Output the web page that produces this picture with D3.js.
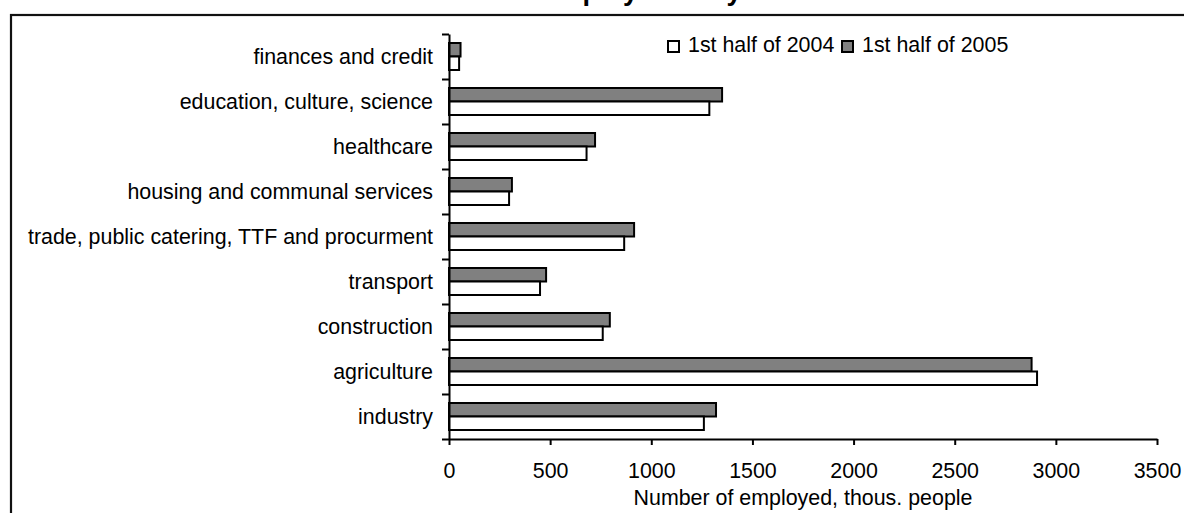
<!DOCTYPE html>
<html>
<head>
<meta charset="utf-8">
<script src="https://cdn.jsdelivr.net/npm/d3@7/dist/d3.min.js"></script>
<style>
  html, body { margin: 0; padding: 0; background: #fff; }
  svg { display: block; }
  text { font-family: "Liberation Sans", Arial, sans-serif; fill: #000; }
</style>
</head>
<body>
<svg id="chart" width="1184" height="513"></svg>
<script>
// Sectors, listed from top to bottom
const categories = [
  "finances and credit",
  "education, culture, science",
  "healthcare",
  "housing and communal services",
  "trade, public catering, TTF and procurment",
  "transport",
  "construction",
  "agriculture",
  "industry"
];
const seriesNames = ["1st half of 2004", "1st half of 2005"];
// thous. people
const values2004 = [50, 1287, 680, 297, 866, 450, 760, 2907, 1260];
const values2005 = [57, 1350, 722, 311, 915, 480, 795, 2880, 1320];
const xTicks = [0, 500, 1000, 1500, 2000, 2500, 3000, 3500];
const xTitle = "Number of employed, thous. people";
const chartTitle = "Structure of employment by sectors";

const svg = d3.select("#chart");
const FONT = 21.4;

// outer chart frame (extends past the right and bottom edges)
svg.append("rect")
  .attr("x", 11).attr("y", 15)
  .attr("width", 1300).attr("height", 600)
  .attr("fill", "none").attr("stroke", "#111").attr("stroke-width", 2.2);

// title, sitting above the frame
svg.append("text")
  .attr("x", 614).attr("y", 0)
  .attr("text-anchor", "middle")
  .attr("font-size", 27).attr("font-weight", "bold")
  .text(chartTitle);

const x = d3.scaleLinear().domain([0, 3500]).range([449, 1157]);
const y = d3.scaleBand().domain(categories).range([34, 439]).padding(0);
const inner = d3.scaleBand().domain(["2005", "2004"]).range([0, y.bandwidth()])
  .paddingInner(0).paddingOuter(0.667);

const rows = categories.map((c, i) => ({ c, v2004: values2004[i], v2005: values2005[i] }));

const g = svg.append("g");
const row = g.selectAll("g.row").data(rows).join("g")
  .attr("class", "row")
  .attr("transform", d => `translate(0,${y(d.c)})`);

row.append("rect")
  .attr("x", x(0)).attr("y", inner("2005"))
  .attr("width", d => x(d.v2005) - x(0)).attr("height", inner.bandwidth())
  .attr("fill", "#808080").attr("stroke", "#000").attr("stroke-width", 2);

row.append("rect")
  .attr("x", x(0)).attr("y", inner("2004"))
  .attr("width", d => x(d.v2004) - x(0)).attr("height", inner.bandwidth())
  .attr("fill", "#fff").attr("stroke", "#000").attr("stroke-width", 2);

// category axis: labels at band centres, ticks at band edges
const yAxis = g.append("g")
  .attr("transform", `translate(${x(0)},0)`)
  .call(d3.axisLeft(y).tickSize(0).tickPadding(16));
yAxis.select(".domain").remove();
yAxis.selectAll("text").attr("font-size", FONT).attr("font-family", null).attr("dy", "0.36em");

const edge = d3.scaleLinear().domain([0, categories.length]).range([34, 439]);
const yEdges = g.append("g")
  .attr("transform", `translate(${x(0)},0)`)
  .call(d3.axisLeft(edge).tickValues(d3.range(categories.length + 1))
    .tickFormat("").tickSize(7).tickSizeOuter(0));
yEdges.selectAll("line, path").attr("stroke", "#000").attr("stroke-width", 2);

// value axis
const xAxis = g.append("g")
  .attr("transform", `translate(0,439)`)
  .call(d3.axisBottom(x).tickValues(xTicks).tickSize(6).tickSizeOuter(0).tickPadding(18)
    .tickFormat(d3.format("d")));
xAxis.selectAll("line, path").attr("stroke", "#000").attr("stroke-width", 2);
xAxis.selectAll("text").attr("font-size", FONT).attr("font-family", null);

svg.append("text")
  .attr("x", (x(0) + x(3500)) / 2).attr("y", 505)
  .attr("text-anchor", "middle").attr("font-size", FONT)
  .text(xTitle);

// legend
const legend = svg.append("g");
const legendItems = [
  { name: seriesNames[0], fill: "#fff", x: 668 },
  { name: seriesNames[1], fill: "#808080", x: 842 }
];
const li = legend.selectAll("g").data(legendItems).join("g")
  .attr("transform", d => `translate(${d.x},41)`);
li.append("rect").attr("width", 11).attr("height", 11)
  .attr("fill", d => d.fill).attr("stroke", "#000").attr("stroke-width", 2);
li.append("text").attr("x", 20).attr("y", 11).attr("font-size", FONT).text(d => d.name);
</script>
</body>
</html>
